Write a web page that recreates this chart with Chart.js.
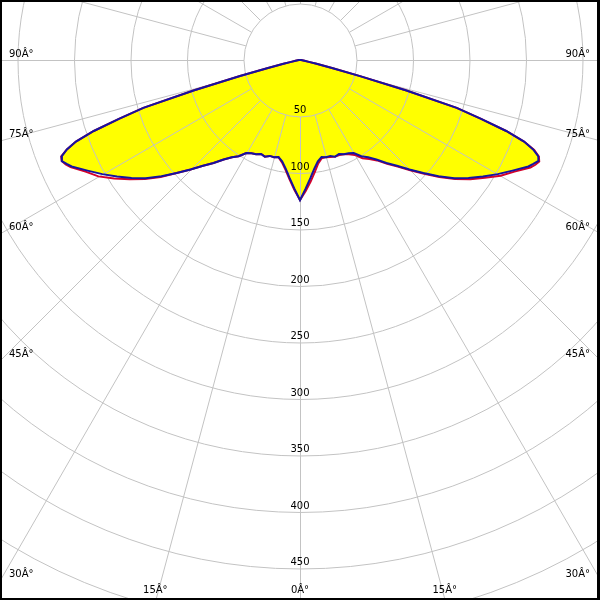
<!DOCTYPE html>
<html><head><meta charset="utf-8">
<script src="https://cdn.jsdelivr.net/npm/chart.js@4.4.1/dist/chart.umd.min.js"></script>
<style>html,body{margin:0;padding:0;background:#fff}canvas{display:block}</style>
</head><body>
<canvas id="c" width="600" height="600"></canvas>
<script>
// gamma angles (deg from nadir) and luminous intensity (cd/klm)
const angles     = [0,2.5,5,7.5,10,12.5,15,17.5,20,22.5,25,27.5,30,32.5,35,37.5,40,42.5,45,47.5,50,52.5,55,57.5,60,62.5,65,66,67,68,69,70,71,72,73,74,75,76,77,78,80,85,90];
const blueCd     = [124,114,105,97,91,88,89,89,91,90,92,93,95,101,105,111,119,127,137,148,160,172,182,192,202,212,223,226,229,227.5,221,211,193,168,145,98,55,30,15,8,4,1,0];
const redRightCd = [124,116,108,100,93,89,89,90,91,91,92,94,97,103,107,112,120,128,138,149,161,173,184,194,205,214,225,228,230,228,222,211,193,168,145,98,55,30,15,8,4,1,0];
const redLeftCd  = [124,115,106,98,92,88,89,89,91,90,92,93,95,101,105,111,119,127,137,148,161,173,184,195,206,214,224,227,229,228,221,211,193,168,145,98,55,30,15,8,4,1,0];
const ringValues = [50,100,150,200,250,300,350,400,450,500,550];
const ringLabels = ['50','100','150','200','250','300','350','400','450'];
const spokeAngles = [0,15,30,45,60,75,90,105,120,135,150,165,180,195,210,225,240,255,270,285,300,315,330,345];
const degreeTicks = [0,15,30,45,60,75,90];
const degreeLabels = ['0Â°','15Â°','30Â°','45Â°','60Â°','75Â°','90Â°'];

const rad = d => d*Math.PI/180;
function toXY(cd, side){ return angles.map((a,i)=>({x: side*cd[i]*Math.sin(rad(a)), y: -cd[i]*Math.cos(rad(a))})); }
function closedShape(leftCd, rightCd){
  const L = toXY(leftCd,-1).reverse();
  const R = toXY(rightCd,1);
  return L.concat(R.slice(1));
}

const gridPlugin = {
  id: 'photoGrid',
  beforeDatasetDraw(chart, args){
    if (args.index !== 1) return;
    const ctx = chart.ctx, xs = chart.scales.x, ys = chart.scales.y;
    const cx = xs.getPixelForValue(0) + 0.5, cy = ys.getPixelForValue(0) + 0.5;
    const unit = xs.getPixelForValue(1) - xs.getPixelForValue(0);
    ctx.save();
    ctx.strokeStyle = '#c3c3c3';
    ctx.lineWidth = 1;
    ringValues.forEach(v=>{ ctx.beginPath(); ctx.arc(cx, cy, v*unit, 0, Math.PI*2); ctx.stroke(); });
    const r0 = ringValues[0]*unit, r1 = 800;
    spokeAngles.forEach(a=>{
      const s = Math.sin(rad(a)), c = Math.cos(rad(a));
      ctx.beginPath(); ctx.moveTo(cx + r0*s, cy + r0*c); ctx.lineTo(cx + r1*s, cy + r1*c); ctx.stroke();
    });
    ctx.restore();
  },
  afterDraw(chart){
    const ctx = chart.ctx, xs = chart.scales.x, ys = chart.scales.y;
    const W = chart.width, H = chart.height;
    const cx = xs.getPixelForValue(0), cy = ys.getPixelForValue(0);
    const unit = xs.getPixelForValue(1) - xs.getPixelForValue(0);
    ctx.save();
    ctx.fillStyle = '#000';
    ctx.font = '10px "DejaVu Sans"';
    ctx.textBaseline = 'alphabetic';
    ctx.textAlign = 'center';
    ringLabels.forEach((t,i)=>{ ctx.fillText(t, cx, cy + ringValues[i]*unit - 3); });
    degreeTicks.forEach((a,i)=>{
      const sides = a === 0 ? [1] : [-1,1];
      sides.forEach(side=>{
        const s = Math.sin(rad(a)), c = Math.cos(rad(a));
        const tx = s > 1e-9 ? (side < 0 ? cx : W - cx)/s : Infinity;
        const ty = c > 1e-9 ? (H - cy)/c : Infinity;
        if (tx <= ty){
          const y = cy + tx*c;
          if (side < 0){ ctx.textAlign = 'left'; ctx.fillText(degreeLabels[i], 9, y - 3); }
          else { ctx.textAlign = 'right'; ctx.fillText(degreeLabels[i], W - 10, y - 3); }
        } else {
          const x = cx + side*ty*s;
          ctx.textAlign = 'center'; ctx.fillText(degreeLabels[i], x, H - 7);
        }
      });
    });
    ctx.fillStyle = '#000';
    ctx.fillRect(0,0,W,2);
    ctx.fillRect(0,0,2,H);
    ctx.fillRect(0,H-2,W,2);
    ctx.fillRect(W-3,0,3,H);
    ctx.restore();
  }
};

new Chart(document.getElementById('c'), {
  type: 'scatter',
  data: {
    datasets: [
      { data: closedShape(blueCd, blueCd), order: 3, showLine: true, fill: 'shape', backgroundColor: '#ffff00', borderColor: 'rgba(0,0,0,0)', borderWidth: 1, pointRadius: 0, tension: 0 },
      { data: closedShape(redLeftCd, redRightCd), order: 2, showLine: true, fill: false, borderColor: '#d4002a', borderWidth: 2, pointRadius: 0, tension: 0 },
      { data: closedShape(blueCd, blueCd), order: 1, showLine: true, fill: false, borderColor: '#1414a0', borderWidth: 2, pointRadius: 0, tension: 0 }
    ]
  },
  options: {
    responsive: false,
    animation: false,
    devicePixelRatio: 1,
    layout: { padding: 0 },
    scales: {
      x: { type: 'linear', min: -265.5, max: 265.5, display: false },
      y: { type: 'linear', min: -477.9, max: 53.1, display: false }
    },
    plugins: { legend: { display: false }, tooltip: { enabled: false } }
  },
  plugins: [gridPlugin]
});
</script>
</body></html>
